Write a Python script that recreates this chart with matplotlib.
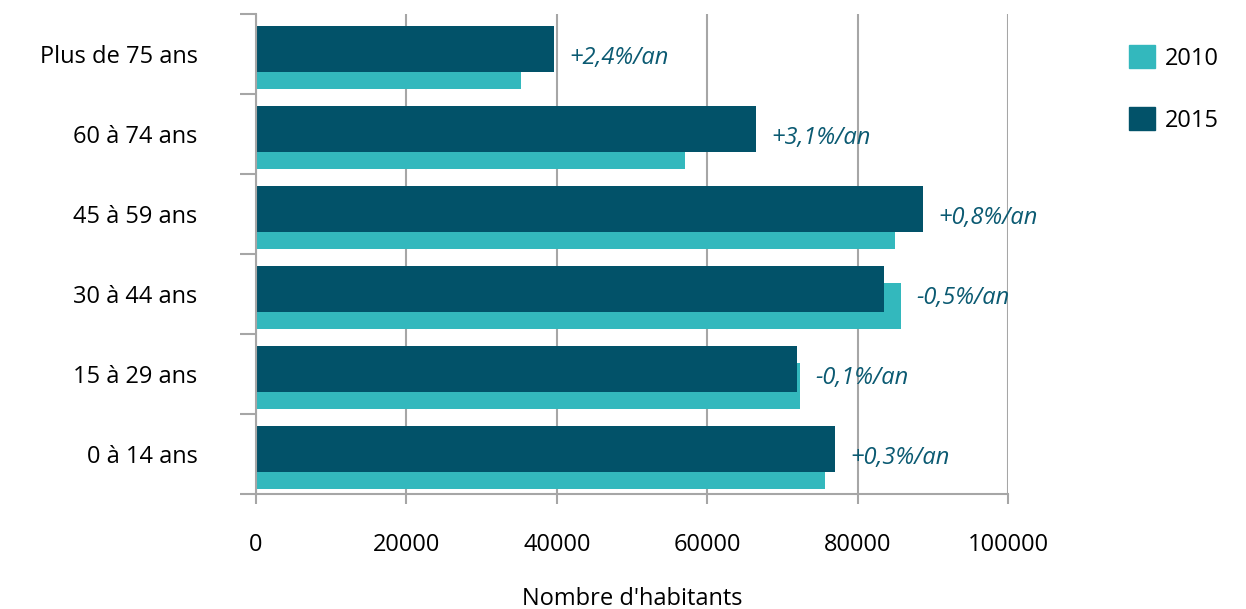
import matplotlib.pyplot as plt
from matplotlib.patches import Patch
import numpy as np

# Donnees
categories = ['0 à 14 ans', '15 à 29 ans', '30 à 44 ans', '45 à 59 ans', '60 à 74 ans', 'Plus de 75 ans']
habitants_2010 = [75700, 72300, 85800, 85000, 57100, 35300]
habitants_2015 = [77000, 71900, 83500, 88700, 66500, 39600]
evolution = ['+0,3%/an', '-0,1%/an', '-0,5%/an', '+0,8%/an', '+3,1%/an', '+2,4%/an']

clair = '#33b8bd'
fonce = '#025269'
gris = '#a6a6a6'

plt.rcParams['font.family'] = ['Open Sans', 'DejaVu Sans']
fs = 17

fig = plt.figure(figsize=(12.46, 6.09), dpi=100)
ax = fig.add_axes([256 / 1246, 1 - 494 / 609, 752 / 1246, 480 / 609])

y_pos = np.arange(len(categories))
h = 0.575
ax.barh(y_pos - 0.147, habitants_2010, height=h, color=clair, zorder=2)
ax.barh(y_pos + 0.06, habitants_2015, height=h, color=fonce, zorder=3)

# Taux d'evolution
for i in range(len(categories)):
    x = max(habitants_2010[i], habitants_2015[i])
    ax.annotate(evolution[i], (x, y_pos[i] - 0.05), xytext=(11, 0), textcoords='offset points',
                ha='left', va='center', fontsize=fs, style='italic', color='#0b5a72')

ax.set_xlim(0, 100000)
ax.set_ylim(-0.5, 5.5)
ax.set_xticks(np.arange(0, 100001, 20000))
ax.grid(axis='x', color=gris, linewidth=1.5, zorder=0)
ax.set_yticks(y_pos)
ax.set_yticklabels(categories)
ax.set_yticks(np.arange(-0.5, 6, 1), minor=True)
ax.tick_params(axis='y', which='major', length=0, pad=42, labelsize=fs)
ax.tick_params(axis='y', which='minor', length=11.5, width=1.5, color=gris)
ax.tick_params(axis='x', length=7, width=1.5, color=gris, pad=21, labelsize=fs)

for s in ['top', 'right']:
    ax.spines[s].set_visible(False)
for s in ['left', 'bottom']:
    ax.spines[s].set_color(gris)
    ax.spines[s].set_linewidth(1.5)
    ax.spines[s].set_zorder(4)

ax.set_xlabel("Nombre d'habitants", fontsize=fs, labelpad=22)

handles = [Patch(color=clair, label='2010'), Patch(color=fonce, label='2015')]
fig.legend(handles=handles, loc='upper left', bbox_to_anchor=(1108 / 1246, 1 - 24 / 609), frameon=False,
           fontsize=fs, handlelength=1.1, handleheight=1.1, handletextpad=0.4, labelspacing=1.55)

plt.savefig('out.png', dpi=100)
